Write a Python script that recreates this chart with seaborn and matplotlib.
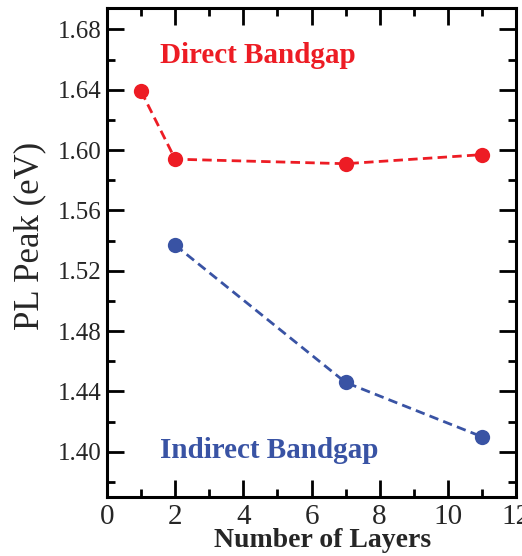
import matplotlib
matplotlib.use("Agg")
import matplotlib.pyplot as plt
from matplotlib.ticker import MultipleLocator
import seaborn as sns
import pandas as pd

# Data
direct_layers = [1, 2, 7, 11]
direct_peak = [1.639, 1.594, 1.591, 1.597]
indirect_layers = [2, 7, 11]
indirect_peak = [1.537, 1.446, 1.410]
x_ticks = [0, 2, 4, 6, 8, 10, 12]
y_ticks = [1.40, 1.44, 1.48, 1.52, 1.56, 1.60, 1.64, 1.68]

red = "#ED1C24"
blue = "#3953A4"

sns.set_style("ticks")
plt.rcParams["font.family"] = ["Liberation Serif", "DejaVu Serif"]

fig = plt.figure(figsize=(5.22, 5.56), dpi=100)
ax = fig.add_axes([0.205, 0.106, 0.7835, 0.879])

df_d = pd.DataFrame({"layers": direct_layers, "peak": direct_peak})
df_i = pd.DataFrame({"layers": indirect_layers, "peak": indirect_peak})

dash = (0, (3.4, 1.9))
sns.lineplot(data=df_d, x="layers", y="peak", ax=ax, color=red, linestyle=dash,
             linewidth=2.0, marker="o", markersize=11, markeredgewidth=0)
sns.lineplot(data=df_i, x="layers", y="peak", ax=ax, color=blue, linestyle=dash,
             linewidth=2.0, marker="o", markersize=11, markeredgewidth=0)

ax.set_xlim(0, 12)
ax.set_ylim(1.370, 1.694)
ax.set_xticks(x_ticks)
ax.set_yticks(y_ticks)
ax.set_yticklabels([f"{v:.2f}" for v in y_ticks])
ax.xaxis.set_minor_locator(MultipleLocator(1))
ax.yaxis.set_minor_locator(MultipleLocator(0.02))

ax.tick_params(which="both", direction="in", top=True, right=True, width=2, color="black")
ax.tick_params(which="major", length=12)
ax.tick_params(which="minor", length=6)
ax.tick_params(axis="x", labelsize=21, pad=5)
ax.tick_params(axis="y", labelsize=18, pad=4)
for s in ax.spines.values():
    s.set_linewidth(2.2)
    s.set_color("black")

ax.set_xlabel("Number of Layers", fontsize=20, fontweight="bold")
ax.set_ylabel("PL Peak (eV)", fontsize=25)
ax.xaxis.set_label_coords(0.528, -0.064)
ax.yaxis.set_label_coords(-0.148, 0.534)

ax.text(1.56, 1.663, "Direct Bandgap", color=red, fontsize=21, fontweight="bold",
        ha="left", va="center")
ax.text(1.56, 1.401, "Indirect Bandgap", color=blue, fontsize=21, fontweight="bold",
        ha="left", va="center")

fig.savefig("out.png", dpi=100)
